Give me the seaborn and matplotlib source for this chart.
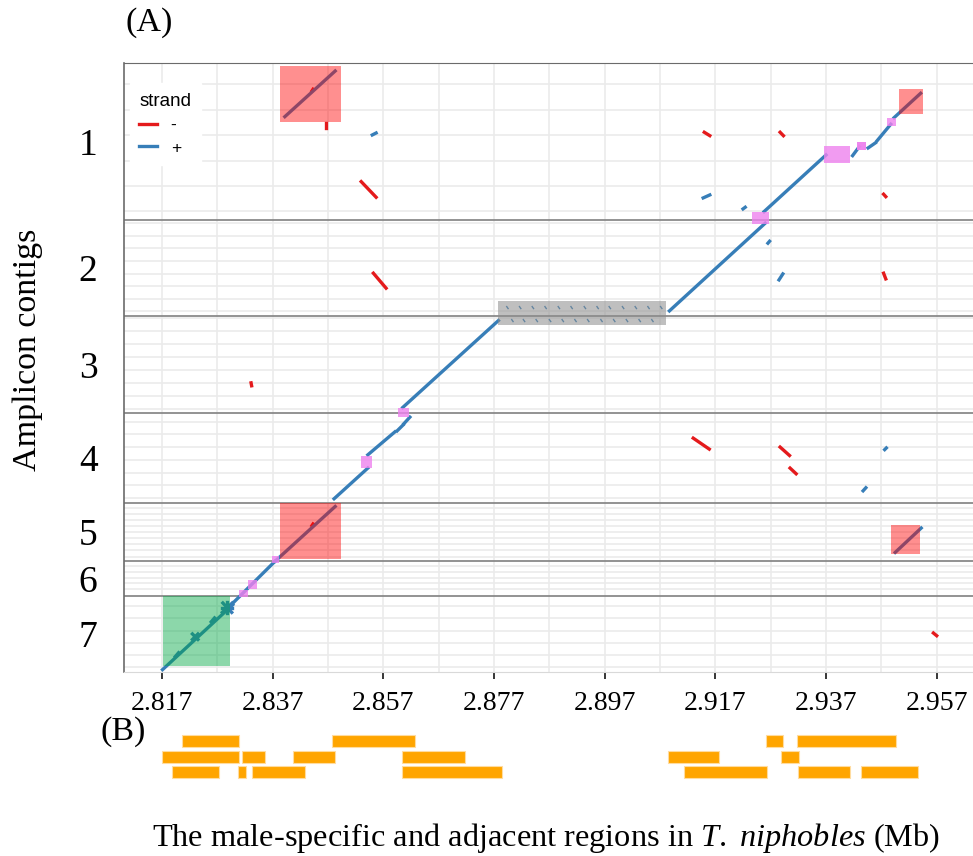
import numpy as np
import pandas as pd
import matplotlib
matplotlib.use("Agg")
import matplotlib.pyplot as plt
import seaborn as sns
from matplotlib.patches import Rectangle

plt.rcParams["font.family"] = ["Liberation Serif", "DejaVu Serif"]
plt.rcParams["mathtext.fontset"] = "custom"
plt.rcParams["mathtext.rm"] = "Liberation Serif"
plt.rcParams["mathtext.it"] = "Liberation Serif:italic"

# amplicon contigs, stacked top to bottom (length in kb)
contig_names = ["1", "2", "3", "4", "5", "6", "7"]
contig_len = [28.4, 17.3, 17.65, 16.3, 10.45, 6.3, 13.7]
# gridlines inside each contig facet: first offset and spacing (kb)
grid_first = [3.85, 0.6, 0.5, 1.55, 0.85, 0.9, 1.9]
grid_step = [4.6, 2.28, 2.34, 2.3, 1.1, 1.05, 2.2]

# alignments: genome position (Mb) vs stacked contig position (kb)
seg_x0 = [2.8171, 2.8297, 2.8374, 2.8481, 2.8542, 2.8595, 2.8607, 2.8605,
          2.9087, 2.9258, 2.9418, 2.9446, 2.9462, 2.9493, 2.8392, 2.8550,
          2.9148, 2.9220, 2.9265, 2.9285, 2.9476, 2.9437, 2.9495,
          2.8279, 2.8280, 2.8279, 2.8288, 2.8225, 2.8225, 2.8194, 2.8259,
          2.8466, 2.8530, 2.8552, 2.8331, 2.9150, 2.9287, 2.9474, 2.9474,
          2.9130, 2.9287, 2.9305, 2.9564, 2.8441, 2.8441]
seg_y0 = [109.76, 97.83, 90.18, 78.84, 70.89, 66.55, 65.28, 62.33,
          44.85, 26.89, 16.76, 15.37, 14.10, 9.89, 9.71, 13.02,
          24.41, 26.40, 32.60, 39.24, 69.95, 77.40, 88.55,
          99.40, 97.70, 98.55, 97.60, 104.3, 103.3, 107.4, 101.1,
          10.85, 21.46, 38.03, 57.87, 12.53, 12.53, 23.74, 38.03,
          67.87, 69.49, 73.29, 103.13, 5.05, 83.70]
seg_x1 = [2.8298, 2.8374, 2.8483, 2.8542, 2.8591, 2.8606, 2.8618, 2.8778,
          2.9260, 2.9370, 2.9430, 2.9459, 2.9487, 2.9541, 2.8483, 2.8557,
          2.9160, 2.9224, 2.9268, 2.9292, 2.9479, 2.9442, 2.9542,
          2.8297, 2.8296, 2.8297, 2.8288, 2.8235, 2.8235, 2.8200, 2.8265,
          2.8466, 2.8557, 2.8575, 2.8332, 2.9160, 2.9293, 2.9478, 2.9478,
          2.9159, 2.9304, 2.9316, 2.9570, 2.8443, 2.8443]
seg_y1 = [98.01, 90.18, 80.24, 73.29, 66.73, 65.46, 64.07, 46.60,
          28.99, 16.64, 15.14, 14.47, 11.08, 5.48, 1.45, 12.66,
          23.87, 26.10, 32.25, 38.16, 69.65, 76.85, 84.14,
          97.70, 99.40, 98.55, 99.50, 103.3, 104.3, 106.7, 100.4,
          11.75, 24.29, 40.74, 58.40, 13.15, 13.15, 24.18, 39.06,
          69.86, 71.01, 74.32, 103.62, 4.75, 83.40]
seg_strand = ["+"] * 31 + ["-"] * 14

# short repeat hits inside the grey block
rep_row1_x = [2.8793, 2.8816, 2.8839, 2.8862, 2.8886, 2.8909, 2.8933,
              2.8956, 2.8978, 2.9002, 2.9025, 2.9048, 2.9071]
rep_row2_x = [2.8802, 2.8823, 2.8846, 2.8870, 2.8893, 2.8916, 2.8939,
              2.8963, 2.8986, 2.9009, 2.9032, 2.9055]
rep_row_y = [44.25, 46.60]

# highlighted blocks
rect_x0 = [2.8383, 2.9501, 2.8383, 2.9487, 2.8171, 2.8778, 2.8597, 2.8530,
           2.8368, 2.8326, 2.8310, 2.9236, 2.9366, 2.9426, 2.9426, 2.9481]
rect_x1 = [2.8494, 2.9545, 2.8494, 2.9540, 2.8293, 2.9080, 2.8616, 2.8550,
           2.8382, 2.8341, 2.8325, 2.9267, 2.9413, 2.9442, 2.9442, 2.9496]
rect_y0 = [0.54, 4.70, 79.62, 83.54, 96.51, 43.04, 62.33, 71.07,
           89.15, 93.62, 95.30, 26.89, 15.01, 14.34, 14.34, 10.00]
rect_y1 = [10.67, 9.17, 89.69, 88.92, 109.17, 47.38, 64.07, 73.36,
           90.47, 95.12, 96.69, 29.06, 18.03, 15.68, 15.68, 11.39]
rect_kind = ["red", "red", "red", "red", "green", "grey", "violet", "violet",
             "violet", "violet", "violet", "violet", "violet", "violet", "violet", "violet"]

# panel (B) tracks
bar_row = [0, 0, 0, 0, 1, 1, 1, 1, 1, 1, 2, 2, 2, 2, 2, 2, 2]
bar_start = [2.8206, 2.8478, 2.9261, 2.9318,
             2.8170, 2.8315, 2.8406, 2.8604, 2.9085, 2.9288,
             2.8189, 2.8308, 2.8333, 2.8604, 2.9114, 2.9320, 2.9434]
bar_end = [2.8310, 2.8627, 2.9293, 2.9497,
           2.8310, 2.8356, 2.8483, 2.8718, 2.9177, 2.9322,
           2.8273, 2.8321, 2.8428, 2.8784, 2.9263, 2.9414, 2.9537]

x_ticks = [2.817, 2.837, 2.857, 2.877, 2.897, 2.917, 2.937, 2.957]

rows = []
for i, (a, b, c, d, s) in enumerate(zip(seg_x0, seg_y0, seg_x1, seg_y1, seg_strand)):
    rows.append({"seg": i, "x": a, "y": b, "strand": s})
    rows.append({"seg": i, "x": c, "y": d, "strand": s})
aln = pd.DataFrame(rows)

rep = []
k = 0
for xs, yv in zip([rep_row1_x, rep_row2_x], rep_row_y):
    for xv in xs:
        rep.append({"seg": k, "x": xv, "y": yv - 0.18, "strand": "+"})
        rep.append({"seg": k, "x": xv + 0.00025, "y": yv + 0.18, "strand": "+"})
        k += 1
rep = pd.DataFrame(rep)

pal = {"-": "#E41A1C", "+": "#377EB8"}
fill = {"red": ("#ff0000", 0.44), "green": ("#00a844", 0.45),
        "grey": ("#8c8c8c", 0.55), "violet": ("#ee82ee", 0.8)}

fig = plt.figure(figsize=(9.73, 8.56), dpi=100)
ax = fig.add_axes([0.1274, 0.2155, 0.8726, 0.7109])
axb = fig.add_axes([0.1274, 0.0888, 0.8726, 0.0543])

bounds = np.concatenate([[0], np.cumsum(contig_len)])
centers = (bounds[:-1] + bounds[1:]) / 2
ygrid = []
for i in range(len(contig_len)):
    ygrid.extend(np.arange(bounds[i] + grid_first[i], bounds[i + 1] - 0.3, grid_step[i]))

sns.lineplot(data=aln, x="x", y="y", hue="strand", units="seg", estimator=None,
             sort=False, palette=pal, hue_order=["-", "+"], lw=2.4, ax=ax)
sns.lineplot(data=rep, x="x", y="y", units="seg", estimator=None, sort=False,
             color=pal["+"], lw=1.0, legend=False, ax=ax)

for a, b, c, d, kind in zip(rect_x0, rect_x1, rect_y0, rect_y1, rect_kind):
    col, al = fill[kind]
    ax.add_patch(Rectangle((a, c), b - a, d - c, facecolor=col, alpha=al,
                           edgecolor="none", zorder=3))

for b in bounds[1:-1]:
    ax.axhline(b, color="#8a8a8a", lw=1.3, zorder=1)

ax.set_xlim(2.81013, 2.96356)
ax.set_ylim(bounds[-1], 0)
ax.set_xticks(x_ticks)
ax.set_xticklabels([f"{v:.3f}" for v in x_ticks])
ax.set_xticks(np.arange(2.827, 2.96, 0.02), minor=True)
ax.set_yticks(centers)
ax.set_yticklabels(contig_names)
ax.set_yticks(ygrid, minor=True)
ax.set_axisbelow(True)
ax.grid(True, axis="x", which="both", color="#ebebeb", lw=1.2)
ax.grid(True, axis="y", which="minor", color="#ebebeb", lw=1.2)
ax.grid(False, axis="y", which="major")
ax.tick_params(axis="x", which="major", length=5, width=1.1, color="black",
               labelsize=20, pad=9)
ax.tick_params(axis="x", which="minor", length=0)
ax.tick_params(axis="y", which="both", length=0, labelsize=27, pad=19)
ax.set_xlabel("")
ax.set_ylabel("")
ax.spines["left"].set_color("#6b6b6b")
ax.spines["left"].set_linewidth(1.2)
ax.spines["top"].set_color("#6b6b6b")
ax.spines["bottom"].set_color("#d9d9d9")
ax.spines["right"].set_visible(False)

leg = ax.get_legend()
handles = leg.legend_handles
labels = [t.get_text() for t in leg.get_texts()]
ax.legend(handles, labels, title="strand", loc="upper left",
          bbox_to_anchor=(0.007, 0.967), borderaxespad=0, frameon=True,
          fancybox=False, facecolor="white", edgecolor="white", framealpha=1,
          prop={"family": "Liberation Sans", "size": 12.5},
          title_fontproperties={"family": "Liberation Sans", "size": 13.5},
          handlelength=1.0, handletextpad=0.8, alignment="left",
          borderpad=0.55, labelspacing=0.45)

axb.barh(bar_row, [e - s for s, e in zip(bar_start, bar_end)], left=bar_start,
         height=0.8, color="#FFA500", edgecolor="#ffdca0", lw=0.8)
axb.set_xlim(ax.get_xlim())
axb.set_ylim(2.5, -0.5)
axb.axis("off")

fig.text(0.1285, 0.974, "(A)", ha="left", va="center", fontsize=24.5)
fig.text(0.1028, 0.145, "(B)", ha="left", va="center", fontsize=24.5)
fig.text(0.029, 0.591, "Amplicon contigs", rotation=90, ha="center", va="center",
         fontsize=24.5)
fig.text(0.561, 0.021,
         r"The male-specific and adjacent regions in $\mathit{T.}$ $\mathit{niphobles}$ (Mb)",
         ha="center", va="center", fontsize=23.3)

fig.savefig("out.png", dpi=100, facecolor="white")
